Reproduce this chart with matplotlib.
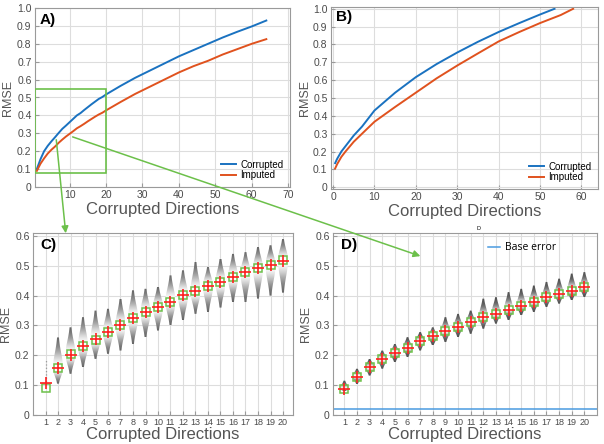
import numpy as np
import matplotlib.pyplot as plt
from matplotlib.patches import Rectangle, FancyArrowPatch, Polygon

plt.rcParams['font.family'] = ['Liberation Sans', 'DejaVu Sans']

# Panel A data (full range of corrupted directions)
a_x = [1, 2, 3, 4, 5, 6, 7, 8, 9, 10, 11, 12, 13, 14, 15, 16, 17, 18, 19, 20,
       24, 28, 32, 36, 40, 44, 48, 52, 56, 60, 64]
a_corrupted = [0.10, 0.155, 0.20, 0.23, 0.255, 0.278, 0.302, 0.325, 0.343, 0.362,
               0.381, 0.40, 0.413, 0.43, 0.446, 0.462, 0.477, 0.492, 0.503, 0.517,
               0.565, 0.61, 0.65, 0.69, 0.73, 0.765, 0.80, 0.835, 0.867, 0.897, 0.93]
a_imputed = [0.09, 0.13, 0.16, 0.187, 0.208, 0.226, 0.247, 0.265, 0.282, 0.297,
             0.312, 0.328, 0.34, 0.353, 0.367, 0.38, 0.393, 0.405, 0.415, 0.428,
             0.475, 0.52, 0.56, 0.60, 0.64, 0.675, 0.705, 0.74, 0.77, 0.80, 0.826]

# Panel B data
b_x_corr = [0.5, 1, 2, 3, 5, 7, 10, 15, 20, 25, 30, 35, 40, 45, 50, 53.5]
b_corrupted = [0.135, 0.16, 0.2, 0.23, 0.29, 0.34, 0.43, 0.53, 0.617, 0.69,
               0.755, 0.815, 0.87, 0.92, 0.968, 1.0]
b_x_imp = [0.5, 1, 2, 3, 5, 7, 10, 15, 20, 25, 30, 35, 40, 45, 50, 55, 58]
b_imputed = [0.105, 0.13, 0.17, 0.2, 0.255, 0.3, 0.367, 0.45, 0.53, 0.61,
             0.682, 0.75, 0.817, 0.87, 0.92, 0.965, 1.0]

# Panel C/D: distributions per number of corrupted directions
dirs = np.arange(1, 21)
c_mean = [0.090, 0.156, 0.203, 0.231, 0.253, 0.278, 0.301, 0.326, 0.344, 0.362,
          0.380, 0.401, 0.414, 0.433, 0.446, 0.462, 0.478, 0.493, 0.503, 0.520]
c_median = [0.108, 0.157, 0.201, 0.232, 0.254, 0.279, 0.302, 0.326, 0.344, 0.362,
            0.380, 0.401, 0.414, 0.432, 0.446, 0.462, 0.478, 0.492, 0.503, 0.516]
# violin extents (direction 1 has no violin, only a dotted whisker)
c_low = [None, 0.105, 0.138, 0.16, 0.188, 0.205, 0.216, 0.238, 0.261, 0.283,
         0.30, 0.317, 0.339, 0.345, 0.36, 0.378, 0.378, 0.39, 0.40, 0.41]
c_high = [None, 0.26, 0.294, 0.328, 0.35, 0.356, 0.39, 0.418, 0.423, 0.43,
          0.468, 0.485, 0.513, 0.496, 0.524, 0.54, 0.546, 0.563, 0.569, 0.59]
c_whisker = (0.10, 0.185)

d_mean = [0.087, 0.129, 0.161, 0.187, 0.208, 0.226, 0.248, 0.264, 0.281, 0.296,
          0.311, 0.328, 0.340, 0.353, 0.367, 0.380, 0.394, 0.406, 0.417, 0.428]
d_median = d_mean
d_low = [0.080, 0.104, 0.132, 0.155, 0.177, 0.194, 0.216, 0.233, 0.244, 0.261,
         0.272, 0.289, 0.306, 0.317, 0.334, 0.345, 0.362, 0.373, 0.384, 0.395]
d_high = [0.115, 0.155, 0.188, 0.216, 0.238, 0.261, 0.278, 0.294, 0.328, 0.339,
          0.35, 0.39, 0.395, 0.412, 0.423, 0.434, 0.446, 0.457, 0.474, 0.479]
base_error = 0.021

blue = '#1a72c0'
red = '#e0521e'
green = '#6cc04a'
txt = '#4a4a4a'


def style_axes(ax):
    ax.grid(True, color='#dddddd', linewidth=0.8)
    ax.set_axisbelow(True)
    for s in ax.spines.values():
        s.set_color('#9a9a9a')
        s.set_linewidth(0.8)
    ax.tick_params(direction='in', length=3, pad=2.5, colors='#9a9a9a', labelcolor=txt, labelsize=7.5)


def draw_violins(ax, pos, mean, low, high, halfw, dark, gexp):
    # gray gradient clipped to violin outline: wide part light, thin tails dark
    for x, m, lo, hi in zip(pos, mean, low, high):
        if lo is None:
            continue
        ys = np.linspace(lo, hi, 120)
        sig = np.where(ys < m, (m - lo) / 2.0, (hi - m) / 2.0)
        f = np.exp(-0.5 * ((ys - m) / sig) ** 2)
        w = halfw * (0.06 + 0.94 * f)
        g = dark + (1 - dark) * f ** gexp
        outline = Polygon(np.column_stack([np.r_[x - w, (x + w)[::-1]], np.r_[ys, ys[::-1]]]),
                          closed=True, facecolor='none', edgecolor='none')
        ax.add_patch(outline)
        im = ax.imshow(g[:, None], cmap='gray', vmin=0, vmax=1, origin='lower',
                       extent=[x - halfw, x + halfw, lo, hi], aspect='auto',
                       interpolation='bilinear', zorder=2)
        im.set_clip_path(outline)


fig = plt.figure(figsize=(6.04, 4.44), dpi=100)

# ---- A) ----
axA = fig.add_axes([35 / 604, 1 - 187 / 444, 255 / 604, 179 / 444])
style_axes(axA)
axA.plot(a_x, a_corrupted, color=blue, lw=1.4, label='Corrupted')
axA.plot(a_x, a_imputed, color=red, lw=1.4, label='Imputed')
axA.add_patch(Rectangle((0.5, 0.08), 19.5, 0.47, fill=False, edgecolor=green, lw=1.2, zorder=5))
axA.set_xlim(0.5, 70.5)
axA.set_ylim(0, 1.0)
axA.set_xticks([10, 20, 30, 40, 50, 60, 70])
axA.set_yticks(np.arange(0, 1.01, 0.1))
axA.set_yticklabels(['0'] + ['%.1f' % v for v in np.arange(0.1, 1.01, 0.1)])
axA.set_xlabel('Corrupted Directions', fontsize=12, color='#555555', labelpad=1)
axA.set_ylabel('RMSE', fontsize=9, color='#555555')
axA.yaxis.set_label_coords(-0.083, 0.5)
axA.text(0.02, 0.97, 'A)', transform=axA.transAxes, fontsize=11, fontweight='bold', va='top')
axA.legend(loc='lower right', bbox_to_anchor=(1.0, 0.0), frameon=False, fontsize=7,
           handlelength=1.6, labelspacing=0.05, borderpad=0.2, handletextpad=0.4)

# ---- B) ----
axB = fig.add_axes([331 / 604, 1 - 189 / 444, 267 / 604, 182 / 444])
style_axes(axB)
axB.plot(b_x_corr, b_corrupted, color=blue, lw=1.4, label='Corrupted')
axB.plot(b_x_imp, b_imputed, color=red, lw=1.4, label='Imputed')
axB.set_xlim(-0.5, 64)
axB.set_ylim(-0.01, 1.01)
axB.set_xticks([0, 10, 20, 30, 40, 50, 60])
axB.set_yticks(np.arange(0, 1.01, 0.1))
axB.set_yticklabels(['0'] + ['%.1f' % v for v in np.arange(0.1, 1.01, 0.1)])
axB.set_xlabel('Corrupted Directions', fontsize=12, color='#555555', labelpad=1)
axB.set_ylabel('RMSE', fontsize=9, color='#555555')
axB.yaxis.set_label_coords(-0.076, 0.5)
axB.text(0.02, 0.985, 'B)', transform=axB.transAxes, fontsize=11, fontweight='bold', va='top')
axB.legend(loc='lower right', bbox_to_anchor=(1.0, 0.0), frameon=False, fontsize=7,
           handlelength=1.6, labelspacing=0.05, borderpad=0.2, handletextpad=0.4)

# ---- C) ----
axC = fig.add_axes([33 / 604, 1 - 415 / 444, 260 / 604, 182 / 444])
style_axes(axC)
draw_violins(axC, dirs, c_mean, c_low, c_high, 0.4, 0.34, 1.2)
axC.vlines(dirs[0], c_whisker[0], c_whisker[1], colors='#999999', linestyles=':', lw=0.9)
axC.plot(dirs, c_mean, 's', ms=6, mfc='none', mec=green, mew=1.1, zorder=4)
axC.plot(dirs, c_median, '+', ms=8, color='#ff2020', mew=1.2, zorder=5)
axC.set_xlim(0, 20.8)
axC.set_ylim(0, 0.61)
axC.set_xticks(dirs)
axC.set_yticks(np.arange(0, 0.61, 0.1))
axC.set_yticklabels(['0'] + ['%.1f' % v for v in np.arange(0.1, 0.61, 0.1)])
axC.tick_params(axis='x', labelsize=6.5)
axC.set_xlabel('Corrupted Directions', fontsize=12, color='#555555', labelpad=0)
axC.set_ylabel('RMSE', fontsize=9, color='#555555')
axC.yaxis.set_label_coords(-0.08, 0.5)
axC.text(0.03, 0.97, 'C)', transform=axC.transAxes, fontsize=11, fontweight='bold', va='top')

# ---- D) ----
axD = fig.add_axes([333 / 604, 1 - 415 / 444, 264 / 604, 182 / 444])
style_axes(axD)
axD.axhline(base_error, color='#4a9be0', lw=1.1, label='Base error')
draw_violins(axD, dirs, d_mean, d_low, d_high, 0.36, 0.32, 2.5)
axD.plot(dirs, d_mean, 's', ms=6, mfc='none', mec=green, mew=1.1, zorder=4)
axD.plot(dirs, d_median, '+', ms=8, color='#ff2020', mew=1.2, zorder=5)
axD.set_xlim(0.1, 21)
axD.set_ylim(0, 0.61)
axD.set_xticks(dirs)
axD.set_yticks(np.arange(0, 0.61, 0.1))
axD.set_yticklabels(['0'] + ['%.1f' % v for v in np.arange(0.1, 0.61, 0.1)])
axD.tick_params(axis='x', labelsize=6.5)
axD.set_xlabel('Corrupted Directions', fontsize=12, color='#555555', labelpad=0)
axD.set_ylabel('RMSE', fontsize=9, color='#555555')
axD.yaxis.set_label_coords(-0.08, 0.5)
axD.text(0.03, 0.97, 'D)', transform=axD.transAxes, fontsize=11, fontweight='bold', va='top')
axD.text(0.55, 1.01, 'D', transform=axD.transAxes, fontsize=4, ha='center', va='bottom')
axD.legend(loc='upper left', bbox_to_anchor=(0.55, 1.0), frameon=False,
           prop={'family': 'Open Sans', 'size': 7.5}, handlelength=1.2, handletextpad=0.5)

# ---- zoom arrows from A to C and D (figure pixel coords) ----
def px(x, y):
    return (x / 604, 1 - y / 444)

for start, end in [((56, 137), (66, 236)), ((70, 136), (423, 257))]:
    arr = FancyArrowPatch(px(*start), px(*end), transform=fig.transFigure,
                          arrowstyle='-|>', mutation_scale=10, color=green, lw=1.1)
    fig.patches.append(arr)

plt.savefig('out.png', dpi=100)
